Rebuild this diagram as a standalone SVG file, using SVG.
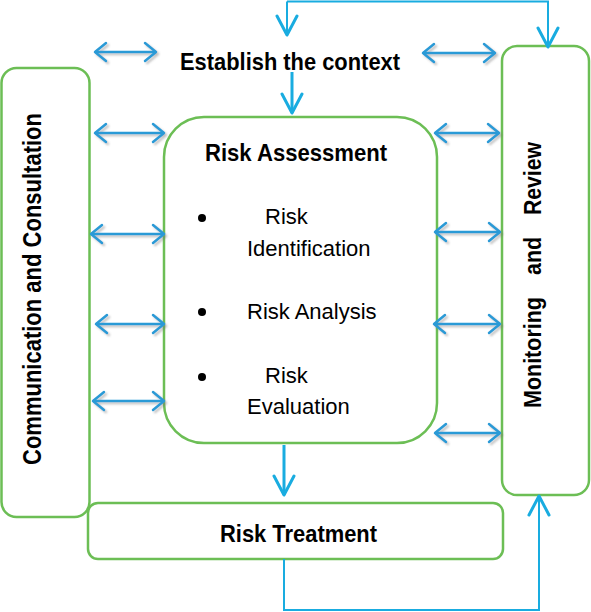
<svg xmlns="http://www.w3.org/2000/svg" width="591" height="612" viewBox="0 0 591 612">
<style>
.box{fill:#fff;stroke:#6CBE55;stroke-width:2.5}
.t{font-family:"Liberation Sans",Arial,sans-serif;fill:#000}
.b{font-weight:bold}
.r{font-size:22px}
.dbl{stroke:#2B9AD6;stroke-width:2.5;fill:none;marker-start:url(#ah);marker-end:url(#ah)}
.conn{stroke:#19ACE0;stroke-width:2;fill:none}
.flow{stroke:#19ACE0;stroke-width:3;fill:none}
</style>
<defs>
<filter id="sh" x="-20%" y="-50%" width="140%" height="200%">
<feDropShadow dx="2" dy="2" stdDeviation="1.2" flood-color="#777" flood-opacity="0.45"/>
</filter>
<marker id="ah" viewBox="-13 -11 15 22" refX="0" refY="0" markerWidth="15" markerHeight="22" orient="auto-start-reverse" markerUnits="userSpaceOnUse">
<path d="M-11,-9 L0,0 L-11,9" fill="none" stroke="#2B9AD6" stroke-width="2.5" stroke-linecap="round" stroke-linejoin="round"/>
</marker>
<marker id="ca" viewBox="-22 -12 24 24" refX="0" refY="0" markerWidth="24" markerHeight="24" orient="auto" markerUnits="userSpaceOnUse">
<path d="M-19,-10 L0,0 L-19,10" fill="none" stroke="#19ACE0" stroke-width="3" stroke-linecap="round" stroke-linejoin="round"/>
</marker>
</defs>

<g id="comm">
<rect class="box" x="1.5" y="68" width="88" height="449" rx="15"/>
<text class="t b" font-size="26" transform="rotate(-90)" x="-465" y="41" textLength="352" lengthAdjust="spacingAndGlyphs">Communication and Consultation</text>
</g>

<g id="monitor">
<rect class="box" x="502" y="46" width="87" height="449" rx="15"/>
<text class="t b" font-size="24" transform="rotate(-90)" y="541"><tspan x="-408" textLength="111" lengthAdjust="spacingAndGlyphs">Monitoring</tspan><tspan x="-275" textLength="38" lengthAdjust="spacingAndGlyphs">and</tspan><tspan x="-215" textLength="73" lengthAdjust="spacingAndGlyphs">Review</tspan></text>
</g>

<g id="context">
<text class="t b" font-size="24" x="180" y="70" textLength="220" lengthAdjust="spacingAndGlyphs">Establish the context</text>
</g>

<g id="assess">
<rect class="box" x="164" y="117" width="273" height="326" rx="40"/>
<text class="t b" font-size="24" x="205" y="161" textLength="182" lengthAdjust="spacingAndGlyphs">Risk Assessment</text>
<circle cx="202" cy="218" r="4"/>
<circle cx="202" cy="312" r="4"/>
<circle cx="202" cy="377" r="4"/>
<text class="t r" x="265" y="224">Risk</text>
<text class="t r" x="247" y="256">Identification</text>
<text class="t r" x="247" y="319">Risk Analysis</text>
<text class="t r" x="265" y="383">Risk</text>
<text class="t r" x="247" y="414">Evaluation</text>
</g>

<g id="treat">
<rect class="box" x="88" y="503" width="415" height="56" rx="10"/>
<text class="t b" font-size="24" x="220" y="542" textLength="157" lengthAdjust="spacingAndGlyphs">Risk Treatment</text>
</g>

<g id="connectors">
<g filter="url(#sh)">
<line class="dbl" x1="95" y1="52" x2="156" y2="52"/>
<line class="dbl" x1="423" y1="53" x2="495" y2="53"/>
<line class="dbl" x1="95" y1="133" x2="164" y2="133"/>
<line class="dbl" x1="91" y1="234" x2="164" y2="234"/>
<line class="dbl" x1="96" y1="324" x2="164" y2="324"/>
<line class="dbl" x1="93" y1="401" x2="164" y2="401"/>
<line class="dbl" x1="435" y1="133" x2="499" y2="133"/>
<line class="dbl" x1="435" y1="232" x2="500" y2="232"/>
<line class="dbl" x1="434" y1="324" x2="500" y2="324"/>
<line class="dbl" x1="435" y1="433" x2="500" y2="433"/>
</g>
<path class="conn" d="M287,1.5 H548 V47" marker-end="url(#ca)"/>
<path class="conn" d="M287,1.5 V35" marker-end="url(#ca)"/>
<path class="flow" d="M292,72 V113" marker-end="url(#ca)"/>
<path class="flow" d="M284,445 V495" marker-end="url(#ca)"/>
<path class="conn" d="M284,559 V610 H539 V496" marker-end="url(#ca)"/>
</g>
</svg>
